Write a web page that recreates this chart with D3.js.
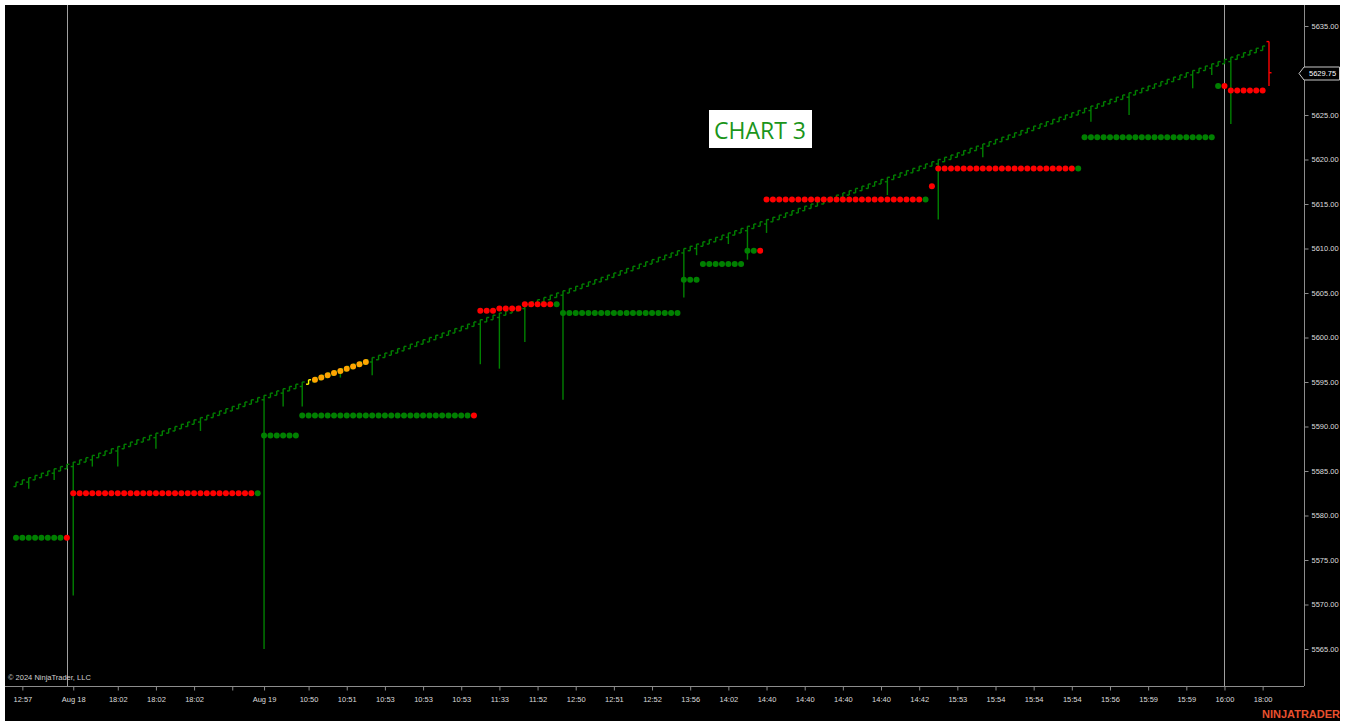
<!DOCTYPE html>
<html>
<head>
<meta charset="utf-8">
<script src="https://cdn.jsdelivr.net/npm/d3@7"></script>
<style>
  html, body { margin: 0; padding: 0; background: #fff; }
  svg { display: block; }
  .axis text { font-family: "Liberation Sans", Arial, sans-serif; font-size: 7.5px; fill: #dcdcdc; }
  .axis line { stroke: #8c8c8c; }
</style>
</head>
<body>
<div id="viz"></div>
<script>
// bar closes (0.25 range bricks), one per bar
const closes = [
  5583.75, 5584, 5584.25, 5584.5, 5584.75, 5585, 5585.25, 5585.5,
  5585.75, 5586, 5586.25, 5586.5, 5586.75, 5587, 5587.25, 5587.5,
  5587.75, 5588, 5588.25, 5588.5, 5588.75, 5589, 5589.25, 5589.5,
  5589.75, 5590, 5590.25, 5590.5, 5590.75, 5591, 5591.25, 5591.5,
  5591.75, 5592, 5592.25, 5592.5, 5592.75, 5593, 5593.25, 5593.5,
  5593.75, 5594, 5594.25, 5594.5, 5594.75, 5595, 5595.25, 5595.5,
  5595.75, 5596, 5596.25, 5596.5, 5596.75, 5597, 5597.25, 5597.5,
  5597.75, 5598, 5598.25, 5598.5, 5598.75, 5599, 5599.25, 5599.5,
  5599.75, 5600, 5600.25, 5600.5, 5600.75, 5601, 5601.25, 5601.5,
  5601.75, 5602, 5602.25, 5602.5, 5602.75, 5603, 5603.25, 5603.5,
  5603.75, 5604, 5604.25, 5604.5, 5604.75, 5605, 5605.25, 5605.5,
  5605.75, 5606, 5606.25, 5606.5, 5606.75, 5607, 5607.25, 5607.5,
  5607.75, 5608, 5608.25, 5608.5, 5608.75, 5609, 5609.25, 5609.5,
  5609.75, 5610, 5610.25, 5610.5, 5610.75, 5611, 5611.25, 5611.5,
  5611.75, 5612, 5612.25, 5612.5, 5612.75, 5613, 5613.25, 5613.5,
  5613.75, 5614, 5614.25, 5614.5, 5614.75, 5615, 5615.25, 5615.5,
  5615.75, 5616, 5616.25, 5616.5, 5616.75, 5617, 5617.25, 5617.5,
  5617.75, 5618, 5618.25, 5618.5, 5618.75, 5619, 5619.25, 5619.5,
  5619.75, 5620, 5620.25, 5620.5, 5620.75, 5621, 5621.25, 5621.5,
  5621.75, 5622, 5622.25, 5622.5, 5622.75, 5623, 5623.25, 5623.5,
  5623.75, 5624, 5624.25, 5624.5, 5624.75, 5625, 5625.25, 5625.5,
  5625.75, 5626, 5626.25, 5626.5, 5626.75, 5627, 5627.25, 5627.5,
  5627.75, 5628, 5628.25, 5628.5, 5628.75, 5629, 5629.25, 5629.5,
  5629.75, 5630, 5630.25, 5630.5, 5630.75, 5631, 5631.25, 5631.5,
  5631.75, 5632, 5632.25, 5632.5, 5632.75, 5629.75
];
const brickSize = 0.5;

// bars whose low reaches below the brick: [bar, low]
const wickLows = [
  [2, 5583], [6, 5584], [9, 5571], [12, 5585.5], [16, 5585.5], [22, 5587.5],
  [29, 5589.5], [39, 5565], [42, 5592.25], [45, 5592.25], [51, 5595.5],
  [56, 5595.75], [73, 5597], [76, 5596.5], [80, 5599.5], [86, 5593],
  [105, 5604.5], [107, 5609.25], [112, 5610.5], [115, 5608.75], [118, 5611.75],
  [137, 5616], [145, 5613.25], [152, 5620.25], [169, 5624.25], [175, 5625],
  [185, 5628], [188, 5629.5], [191, 5624], [197, 5628.25]
];
const openOverrides = [[197, 5633.25]];
const barColorOverrides = [[46, '#ffff00'], [197, '#ff0000']];

// trailing stop dots: [firstBar, lastBar, level, side]
const stopSegments = [
  [0, 7, 5577.5, 'up'], [8, 8, 5577.5, 'down'],
  [9, 37, 5582.5, 'down'], [38, 38, 5582.5, 'up'],
  [39, 44, 5589, 'up'],
  [45, 71, 5591.25, 'up'], [72, 72, 5591.25, 'down'],
  [73, 75, 5603, 'down'], [76, 79, 5603.25, 'down'],
  [80, 84, 5603.75, 'down'], [85, 85, 5603.75, 'up'],
  [86, 104, 5602.75, 'up'], [105, 107, 5606.5, 'up'],
  [108, 114, 5608.25, 'up'],
  [115, 116, 5609.75, 'up'], [117, 117, 5609.75, 'down'],
  [118, 142, 5615.5, 'down'], [143, 143, 5615.5, 'up'],
  [144, 144, 5617, 'down'],
  [145, 166, 5619, 'down'], [167, 167, 5619, 'up'],
  [168, 188, 5622.5, 'up'],
  [189, 189, 5628.25, 'up'], [190, 190, 5628.25, 'down'],
  [191, 196, 5627.75, 'down']
];

// orange trail dots
const trailBars = [47, 48, 49, 50, 51, 52, 53, 54, 55];
const trailLevels = [5595.25, 5595.5, 5595.75, 5596, 5596.25, 5596.5, 5596.75, 5597, 5597.25];

const tickBars = [1, 9, 16, 22, 28, 34, 39, 46, 52, 58, 64, 70, 76, 82, 88, 94, 100,
  106, 112, 118, 124, 130, 136, 142, 148, 154, 160, 166, 172, 178, 184, 190, 196];
const tickLabels = ['12:57', 'Aug 18', '18:02', '18:02', '18:02', '', 'Aug 19', '10:50',
  '10:51', '10:53', '10:53', '10:53', '11:33', '11:52', '12:50', '12:51', '12:52',
  '13:56', '14:02', '14:40', '14:40', '14:40', '14:40', '14:42', '15:53', '15:54',
  '15:54', '15:54', '15:56', '15:59', '15:59', '16:00', '18:00'];
// 5630 sits under the last-price marker, so it is not listed
const priceTicks = [5565, 5570, 5575, 5580, 5585, 5590, 5595, 5600, 5605, 5610,
  5615, 5620, 5625, 5635];
const sessionBars = [8, 190];

(function () {
  const W = 1349, H = 721;
  const plot = { left: 5, top: 5, right: 1304, bottom: 686 };
  const upColor = '#008000', downColor = '#ff0000';

  const svg = d3.select('#viz').append('svg').attr('width', W).attr('height', H);
  svg.append('rect').attr('x', 5).attr('y', 5).attr('width', 1335).attr('height', H - 5).attr('fill', '#000');

  const x = d3.scaleLinear().domain([0, closes.length - 1]).range([16, 1269]);
  const y = d3.scaleLinear().domain([5565, 5635]).range([649, 26]);

  // session break lines
  svg.selectAll('.session').data(sessionBars).enter().append('line')
    .attr('x1', (d) => Math.round(x(d)) + 0.5).attr('x2', (d) => Math.round(x(d)) + 0.5)
    .attr('y1', plot.top).attr('y2', plot.bottom)
    .attr('stroke', '#a0a0a0').attr('stroke-width', 1);

  // axes
  svg.append('line').attr('x1', plot.left).attr('x2', plot.right)
    .attr('y1', plot.bottom + 0.5).attr('y2', plot.bottom + 0.5).attr('stroke', '#8c8c8c');
  svg.append('line').attr('x1', plot.right + 0.5).attr('x2', plot.right + 0.5)
    .attr('y1', plot.top).attr('y2', plot.bottom).attr('stroke', '#8c8c8c');

  const xAxis = svg.append('g').attr('class', 'axis')
    .attr('transform', `translate(0,${plot.bottom + 0.5})`)
    .call(d3.axisBottom(x).tickValues(tickBars).tickFormat((d, i) => tickLabels[i]).tickSize(4).tickPadding(6));
  xAxis.select('.domain').remove();

  const yAxis = svg.append('g').attr('class', 'axis')
    .attr('transform', `translate(${plot.right + 0.5},0)`)
    .call(d3.axisRight(y).tickValues(priceTicks).tickFormat(d3.format('.2f')).tickSize(4).tickPadding(3));
  yAxis.select('.domain').remove();

  // bars
  const wickMap = new Map(wickLows);
  const openMap = new Map(openOverrides);
  const colorMap = new Map(barColorOverrides);
  const bars = closes.map((c, i) => {
    const open = openMap.has(i) ? openMap.get(i) : c - brickSize;
    const hi = Math.max(open, c);
    const lo = wickMap.has(i) ? Math.min(wickMap.get(i), open, c) : Math.min(open, c);
    return { i, open, close: c, hi, lo, color: colorMap.get(i) || upColor };
  });

  const g = svg.append('g').attr('class', 'bars');
  const bar = g.selectAll('.bar').data(bars).enter().append('g').attr('class', 'bar')
    .attr('stroke', (d) => d.color).attr('stroke-width', 1.4);
  bar.append('line')
    .attr('x1', (d) => x(d.i)).attr('x2', (d) => x(d.i))
    .attr('y1', (d) => y(d.hi)).attr('y2', (d) => y(d.lo));
  bar.append('line')
    .attr('x1', (d) => x(d.i) - 2.5).attr('x2', (d) => x(d.i))
    .attr('y1', (d) => y(d.open)).attr('y2', (d) => y(d.open));
  bar.append('line')
    .attr('x1', (d) => x(d.i)).attr('x2', (d) => x(d.i) + 2.5)
    .attr('y1', (d) => y(d.close)).attr('y2', (d) => y(d.close));

  // stop dots
  const dots = [];
  stopSegments.forEach(([a, b, level, side]) => {
    for (let i = a; i <= b; i++) dots.push({ i, level, color: side === 'up' ? upColor : downColor });
  });
  svg.append('g').selectAll('circle').data(dots).enter().append('circle')
    .attr('cx', (d) => x(d.i)).attr('cy', (d) => y(d.level)).attr('r', 3)
    .attr('fill', (d) => d.color);

  svg.append('g').selectAll('circle').data(trailBars).enter().append('circle')
    .attr('cx', (d) => x(d)).attr('cy', (d, i) => y(trailLevels[i])).attr('r', 3)
    .attr('fill', '#ffa500');

  // last price marker
  const last = closes[closes.length - 1];
  const ly = Math.round(y(last)) + 0.5;
  svg.append('path')
    .attr('d', `M${plot.right - 5},${ly} L${plot.right},${ly - 6.5} L1339.5,${ly - 6.5} L1339.5,${ly + 6.5} L${plot.right},${ly + 6.5} Z`)
    .attr('fill', '#000').attr('stroke', '#c8c8c8').attr('stroke-width', 1);
  svg.append('text').attr('x', 1309).attr('y', ly).attr('dy', '0.35em')
    .attr('font-family', '"Liberation Sans", Arial, sans-serif').attr('font-size', 7.5)
    .attr('fill', '#fff').text(d3.format('.2f')(last));

  // chart label
  svg.append('rect').attr('x', 709).attr('y', 110).attr('width', 103).attr('height', 38).attr('fill', '#fff');
  svg.append('text').attr('x', 760).attr('y', 139).attr('text-anchor', 'middle')
    .attr('font-family', '"Open Sans", "Noto Sans", sans-serif').attr('font-size', 23)
    .attr('fill', '#1a951a').text('CHART 3');

  svg.append('text').attr('x', 8).attr('y', 680)
    .attr('font-family', '"Liberation Sans", Arial, sans-serif').attr('font-size', 7.5)
    .attr('fill', '#d0d0d0').text('© 2024 NinjaTrader, LLC');

  svg.append('text').attr('x', 1340).attr('y', 718).attr('text-anchor', 'end')
    .attr('font-family', '"Liberation Sans", Arial, sans-serif').attr('font-size', 11)
    .attr('font-weight', 'bold').attr('fill', '#e8502e').text('NINJATRADER');
})();
</script>
</body>
</html>
